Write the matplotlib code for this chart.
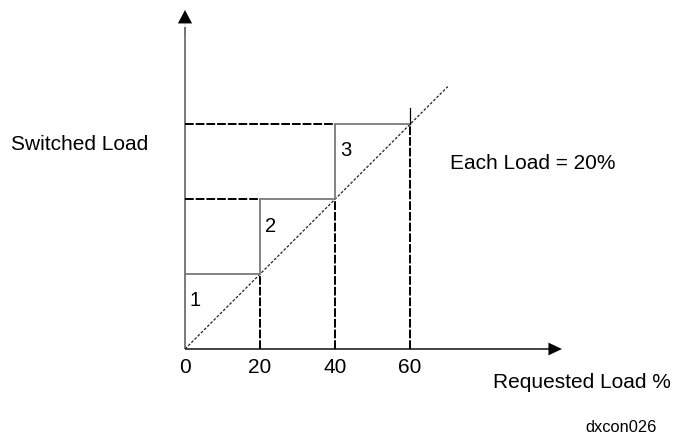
import matplotlib
matplotlib.use('Agg')
import matplotlib.pyplot as plt

plt.rcParams['font.family'] = ['Liberation Sans', 'DejaVu Sans']

# requested load (%) at which each load switches in, and the switched level
requested = [0, 20, 40, 60]
switched = [0, 1, 2, 3]
step_labels = ['1', '2', '3']
tick_labels = ['0', '20', '40', '60']

fig = plt.figure(figsize=(6.77, 4.34), dpi=100)
ax = fig.add_axes([0, 0, 1, 1])
# 3.75 px per %, 75 px per load level, origin at pixel (185, 349)
ax.set_xlim(-185 / 3.75, (677 - 185) / 3.75)
ax.set_ylim((349 - 434) / 75, 349 / 75)
ax.axis('off')

grey = '#7a7a7a'
dash = (0, (4.5, 1.0))

# axes with arrow heads
ax.plot([0, 97], [0, 0], color='#444444', lw=1.4, solid_capstyle='butt')
ax.plot([0, 0], [0, 4.3], color=grey, lw=1.4, solid_capstyle='butt')
ax.annotate('', xy=(100.5, 0), xytext=(95, 0),
            arrowprops=dict(arrowstyle='-|>,head_length=0.95,head_width=0.45',
                            color='black', lw=0.1, shrinkA=0, shrinkB=0))
ax.annotate('', xy=(0, 4.52), xytext=(0, 4.2),
            arrowprops=dict(arrowstyle='-|>,head_length=0.95,head_width=0.5',
                            color='black', lw=0.1, shrinkA=0, shrinkB=0))

# diagonal: requested = switched
ax.plot([0, 70.1], [0, 3.5], color='#222222', lw=0.9, linestyle=(0, (2.2, 1.4)))

for i in range(1, len(requested)):
    x, lev = requested[i], switched[i]
    xp, levp = requested[i - 1], switched[i - 1]
    # dashed drop lines to the axes
    ax.plot([x, x], [0, lev], color='black', lw=1.4, linestyle=dash)
    if xp > 0:
        ax.plot([0, xp], [lev, lev], color='black', lw=1.4, linestyle=dash)
    # solid step
    ax.plot([xp, x], [lev, lev], color=grey, lw=1.3)
    if xp > 0:
        ax.plot([xp, xp], [levp, lev], color=grey, lw=1.3)
    ax.text(xp + 2.8, lev - 0.36, step_labels[i - 1], fontsize=14.5,
            ha='center', va='center', color='black')

# thin vertical above the last step
ax.plot([requested[-1], requested[-1]], [switched[-1], 3.21], color='black', lw=0.9)

for x, t in zip(requested, tick_labels):
    ax.text(x, -0.25, t, fontsize=15, ha='center', va='center')

ax.text(80 / 677, 1 - 145 / 434, 'Switched Load', transform=fig.transFigure,
        fontsize=15, ha='center', va='center')
ax.text(450 / 677, 1 - 164 / 434, 'Each Load = 20%', transform=fig.transFigure,
        fontsize=15, ha='left', va='center')
ax.text(493 / 677, 1 - 382 / 434, 'Requested Load %', transform=fig.transFigure,
        fontsize=15, ha='left', va='center')
ax.text(585 / 677, 1 - 427 / 434, 'dxcon026', transform=fig.transFigure,
        fontsize=11.8, ha='left', va='center')

fig.savefig('out.png', dpi=100, facecolor='white')
